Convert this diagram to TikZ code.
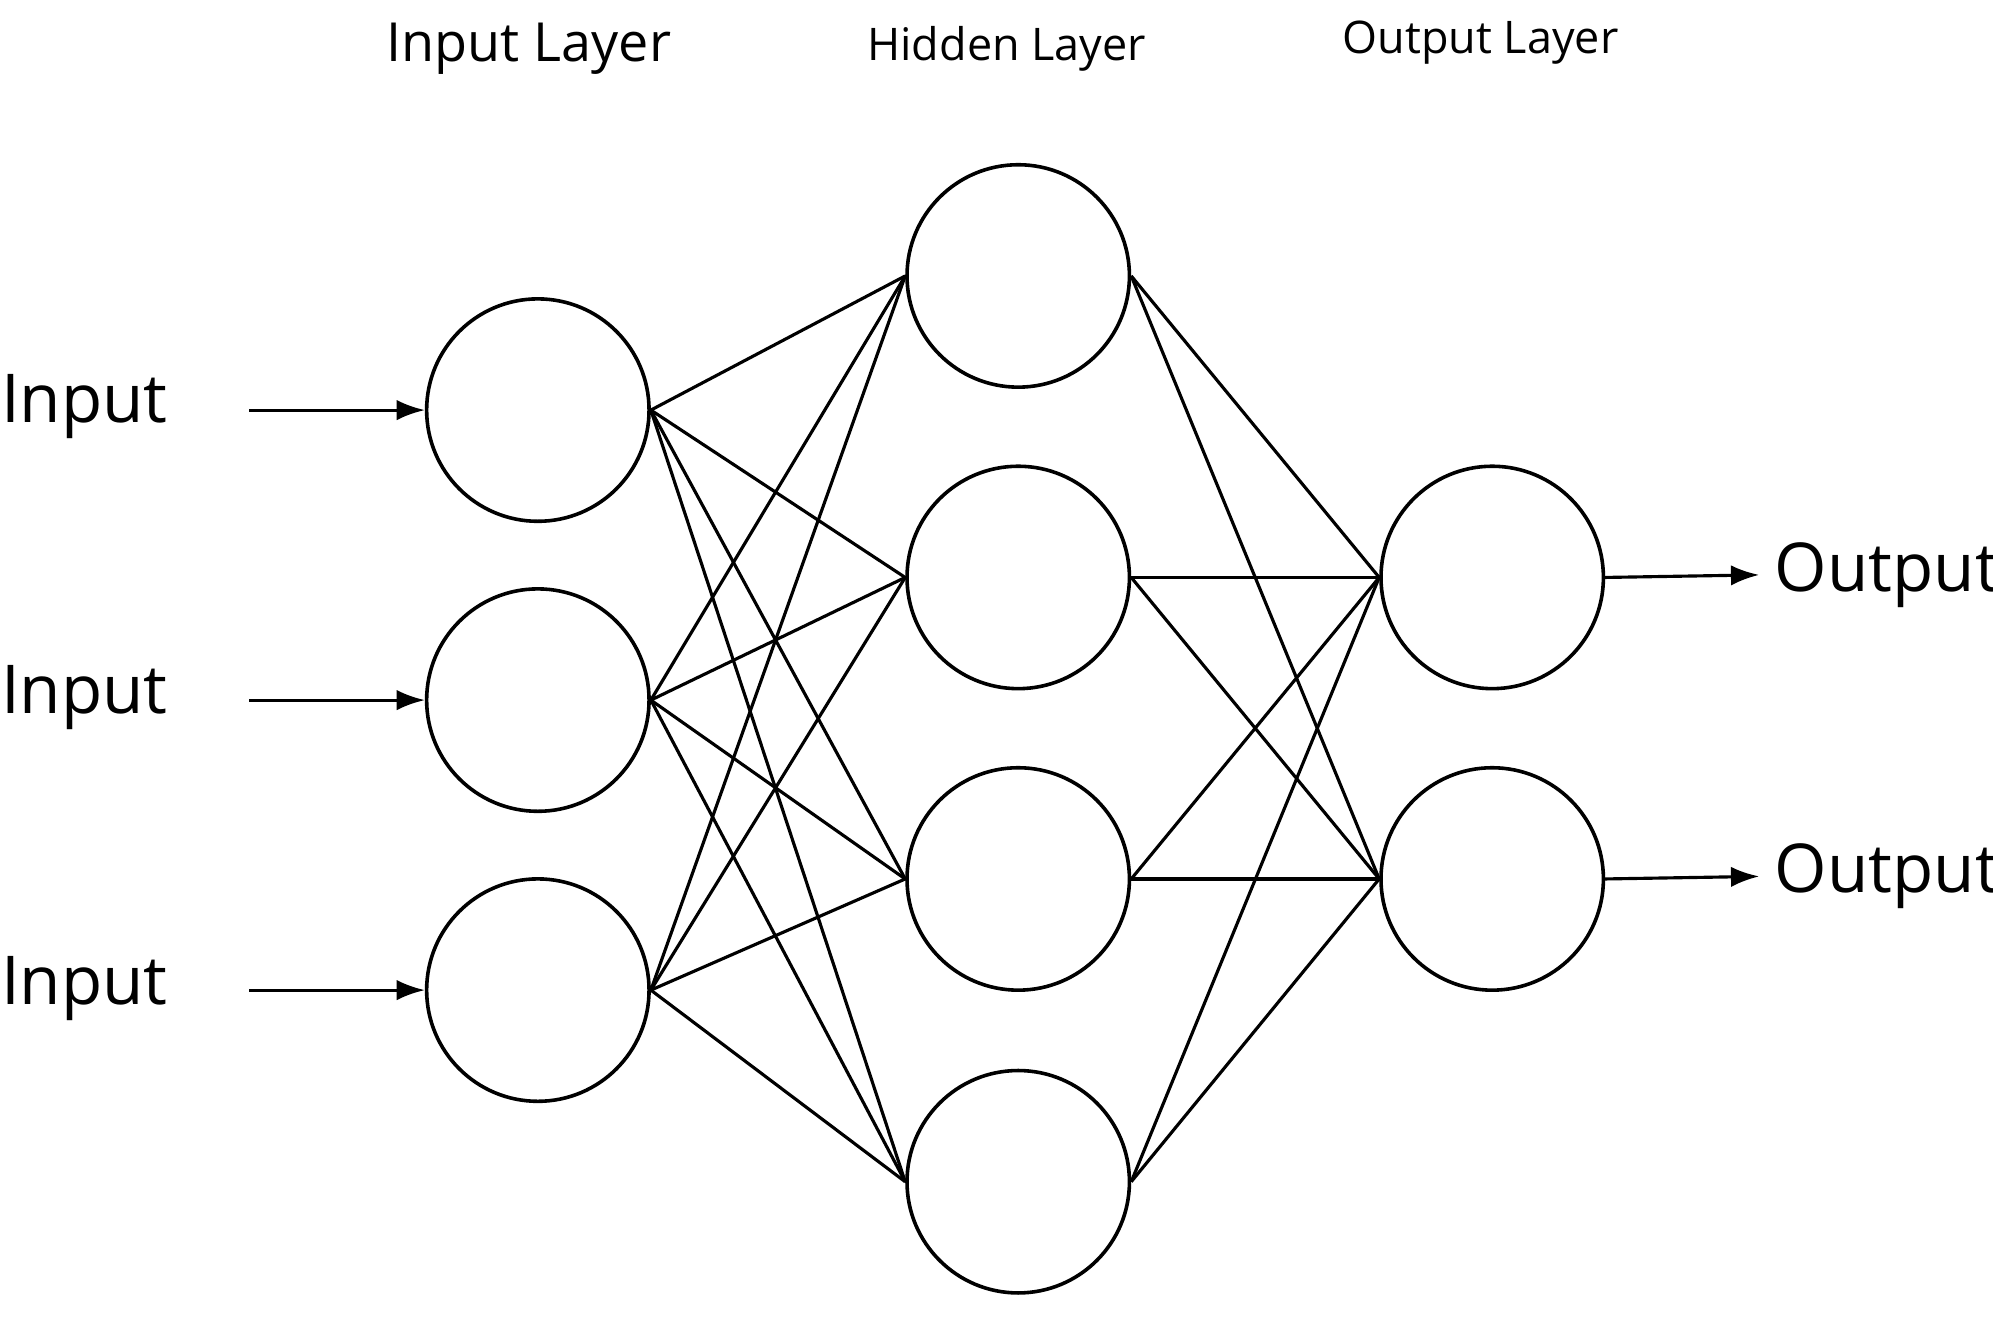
\documentclass[tikz,border=0pt]{standalone}
\usepackage{fontspec}
\setmainfont{Open Sans}
\usetikzlibrary{arrows.meta}
\begin{document}
\begin{tikzpicture}[x=0.01cm,y=-0.01cm,
  neuron/.style={circle,draw,line width=0.8pt,minimum size=1.74cm,inner sep=0pt},
  edge/.style={line width=0.7pt},
  io/.style={line width=0.7pt,-{Latex[length=2.2mm,width=1.6mm]}},
  lbl/.style={font=\fontsize{15}{18}\selectfont}]
\useasboundingbox (0,0) rectangle (1560,1031);
\node[neuron] (i1) at (421,321) {};
\node[neuron] (i2) at (421,548) {};
\node[neuron] (i3) at (421,775) {};
\node[neuron] (h1) at (797,216) {};
\node[neuron] (h2) at (797,452) {};
\node[neuron] (h3) at (797,688) {};
\node[neuron] (h4) at (797,925) {};
\node[neuron] (o1) at (1168,452) {};
\node[neuron] (o2) at (1168,688) {};
\foreach \i in {i1,i2,i3}{\foreach \h in {h1,h2,h3,h4}{\draw[edge] (\i.east) -- (\h.west);}}
\foreach \h in {h1,h2,h3,h4}{\foreach \o in {o1,o2}{\draw[edge] (\h.east) -- (\o.west);}}
\node[lbl] (t1) at (66,318) {Input};
\node[lbl] (t2) at (66,546) {Input};
\node[lbl] (t3) at (66,774) {Input};
\coordinate (a1) at (195,321); \coordinate (a2) at (195,548); \coordinate (a3) at (195,775);
\draw[io] (a1) -- (i1.west); \draw[io] (a2) -- (i2.west); \draw[io] (a3) -- (i3.west);
\node[lbl] (u1) at (1477,450) {Output};
\node[lbl] (u2) at (1477,686) {Output};
\draw[io] (o1.east) -- (u1.west); \draw[io] (o2.east) -- (u2.west);
\node[font=\fontsize{12}{14}\selectfont] (l1) at (414,38) {Input Layer};
\node[font=\fontsize{10}{12}\selectfont] (l2) at (788,38) {Hidden Layer};
\node[font=\fontsize{10}{12}\selectfont] (l3) at (1159,33) {Output Layer};
\end{tikzpicture}
\end{document}
